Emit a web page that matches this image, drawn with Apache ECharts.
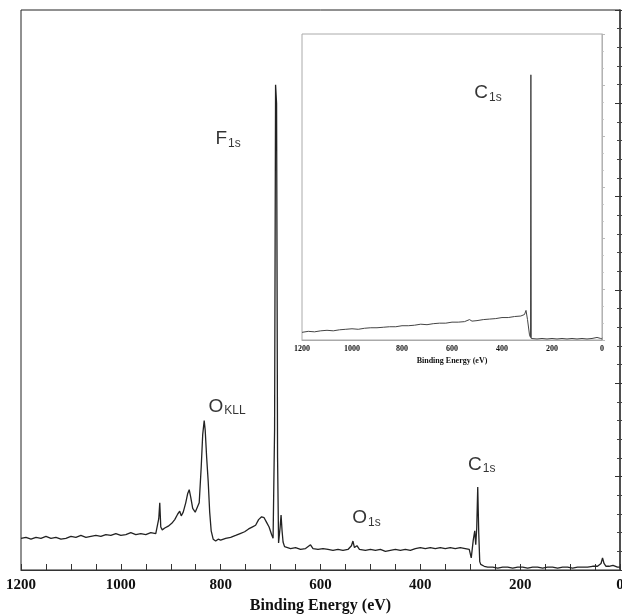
<!DOCTYPE html>
<html>
<head>
<meta charset="utf-8">
<script src="https://cdn.jsdelivr.net/npm/echarts@6/dist/echarts.min.js"></script>
<style>
  html, body { margin: 0; padding: 0; background: #fff; }
  #chart { width: 622px; height: 614px; }
</style>
</head>
<body>
<div id="chart"></div>
<script>
// 主谱 (binding energy eV / intensity, arbitrary units)
var mainEnergy = [1200,1190,1180,1170,1160,1150,1140,1130,1120,1110,1100,1090,1080,1070,1060,1050,1040,1030,1020,1010,
  1000,990,980,970,960,950,940,930,926,924,922,920,917,912,905,898,892,886,882,879,875,870,866,863,860,856,851,847,843,839,
  836,833,831,828,825,822,819,815,810,805,800,790,780,770,761,752,744,737,730,724,718,713,708,703,698,695,692,690,688,686,
  684,681,679,677,675,672,668,660,650,640,630,620,615,605,595,585,575,565,555,545,538,535,532,527,522,510,500,490,480,470,
  460,450,440,430,420,410,400,390,380,370,360,350,340,330,320,310,302,298,294,291,289,287,285,283,281,279,276,272,265,255,
  245,235,225,215,205,195,185,175,165,155,145,135,125,115,105,95,85,75,65,55,45,38,35,32,28,22,18,14,10,5,0];
var mainCounts = [0.34,0.35,0.33,0.35,0.34,0.36,0.34,0.35,0.33,0.34,0.36,0.35,0.37,0.35,0.36,0.37,0.36,0.38,0.37,0.39,
  0.37,0.38,0.40,0.38,0.39,0.38,0.40,0.39,0.41,0.55,0.72,0.46,0.43,0.45,0.47,0.50,0.54,0.60,0.63,0.58,0.62,0.72,0.82,0.86,0.78,0.66,0.62,0.60,0.72,1.10,
  1.45,1.60,1.50,1.20,0.95,0.62,0.42,0.33,0.31,0.33,0.32,0.34,0.35,0.37,0.39,0.41,0.44,0.46,0.48,0.54,0.57,0.56,0.51,0.46,0.38,0.34,1.50,5.20,5.00,1.20,
  0.29,0.45,0.59,0.42,0.30,0.25,0.24,0.23,0.24,0.22,0.23,0.27,0.23,0.22,0.23,0.22,0.21,0.22,0.21,0.22,0.26,0.31,0.24,0.26,0.22,0.21,0.22,0.21,0.22,0.20,
  0.21,0.22,0.21,0.22,0.21,0.23,0.24,0.23,0.24,0.23,0.24,0.23,0.24,0.23,0.24,0.23,0.22,0.13,0.32,0.42,0.27,0.45,0.89,0.40,0.09,0.06,0.07,0.04,0.03,0.03,
  0.02,0.03,0.03,0.02,0.03,0.03,0.02,0.03,0.03,0.02,0.03,0.03,0.02,0.03,0.03,0.02,0.03,0.03,0.03,0.04,0.04,0.07,0.13,0.07,0.04,0.04,0.05,0.05,0.03,0.03,0.03];

// 插图谱
var insetEnergy = [1200,1175,1150,1125,1100,1075,1050,1025,1000,975,950,925,900,875,850,825,800,775,750,725,700,675,650,625,600,575,550,
  530,520,500,475,450,425,400,375,350,325,310,304,298,290,286,284.5,283,280,260,240,220,200,180,160,140,120,100,80,60,40,20,12,5,0];
var insetCounts = [0.15,0.17,0.16,0.18,0.19,0.18,0.20,0.21,0.22,0.21,0.23,0.24,0.24,0.25,0.26,0.26,0.28,0.28,0.29,0.31,0.30,0.32,0.33,0.33,0.35,0.35,0.36,
  0.40,0.37,0.38,0.40,0.41,0.42,0.44,0.44,0.46,0.47,0.50,0.58,0.40,0.10,0.05,5.20,0.03,0.02,0.02,0.03,0.02,0.03,0.02,0.03,0.02,0.03,0.02,0.03,0.02,0.03,0.05,0.08,0.03,0.02];

var xTicks = [1200, 1000, 800, 600, 400, 200, 0];

// 峰标注 [能量, 强度, 元素, 下标]
var mainPeakLabels = [
  [785, 4.62, 'F', '1s'],
  [787, 1.75, 'O', 'KLL'],
  [508, 0.56, 'O', '1s'],
  [277, 1.13, 'C', '1s']
];
var insetPeakLabels = [
  [456, 4.84, 'C', '1s']
];

function zip(a, b) {
  return a.map(function (v, i) { return [v, b[i]]; });
}

var peakLabel = {
  show: true,
  position: 'inside',
  formatter: function (p) { return '{b|' + p.data[2] + '}{s|' + p.data[3] + '}'; },
  rich: {
    b: { fontFamily: 'Liberation Sans', fontSize: 19, color: '#000' },
    s: { fontFamily: 'Liberation Sans', fontSize: 12, color: '#000', padding: [9, 0, 0, 1] }
  }
};

var serifBold = { fontFamily: 'Liberation Serif', fontWeight: 'bold', color: '#111' };
var plainLabel = function (v) { return String(v); };

var option = {
  animation: false,
  backgroundColor: '#fff',
  grid: [
    { left: 21, top: 10, right: 2, bottom: 44, show: true, borderColor: '#222', borderWidth: 1, outerBoundsMode: 'none' },
    { left: 302, top: 34, width: 300, height: 306, show: true, backgroundColor: '#fff', borderColor: '#aaa', borderWidth: 1, z: 5, outerBoundsMode: 'none' }
  ],
  xAxis: [
    {
      gridIndex: 0, type: 'value', min: 0, max: 1200, interval: 200, inverse: true,
      name: 'Binding Energy (eV)', nameLocation: 'middle', nameGap: 27,
      nameTextStyle: Object.assign({ fontSize: 16 }, serifBold),
      axisLine: { lineStyle: { color: '#333', width: 1.2 } },
      axisTick: { inside: true, length: 6, lineStyle: { color: '#333' } },
      minorTick: { show: true, splitNumber: 4, length: 6, lineStyle: { color: '#333' } },
      splitLine: { show: false },
      axisLabel: Object.assign({ fontSize: 15, margin: 8,
        formatter: function (v) { return xTicks.indexOf(v) >= 0 ? String(v) : ''; } }, serifBold)
    },
    {
      gridIndex: 1, type: 'value', min: 0, max: 1200, interval: 200, inverse: true,
      name: 'Binding Energy (eV)', nameLocation: 'middle', nameGap: 17,
      nameTextStyle: Object.assign({ fontSize: 8 }, serifBold),
      axisLine: { lineStyle: { color: '#aaa' } },
      axisTick: { inside: true, length: 3, lineStyle: { color: '#999' } },
      minorTick: { show: true, splitNumber: 6, length: 2, lineStyle: { color: '#999' } },
      splitLine: { show: false },
      axisLabel: Object.assign({ fontSize: 8, margin: 5, formatter: plainLabel }, serifBold)
    }
  ],
  yAxis: [
    {
      gridIndex: 0, type: 'value', min: 0, max: 6, interval: 1,
      axisLine: { show: true, lineStyle: { color: '#666', width: 1.5 } },
      axisTick: { inside: true, length: 5, lineStyle: { color: '#333' } },
      minorTick: { show: true, splitNumber: 5, length: 3, lineStyle: { color: '#444' } },
      splitLine: { show: false }, axisLabel: { show: false }
    },
    {
      gridIndex: 0, type: 'value', min: 0, max: 6, interval: 1, position: 'right',
      axisLine: { show: true, lineStyle: { color: '#444', width: 1.5 } },
      axisTick: { inside: true, length: 5, lineStyle: { color: '#333' } },
      minorTick: { show: true, splitNumber: 5, length: 3, lineStyle: { color: '#444' } },
      splitLine: { show: false }, axisLabel: { show: false }
    },
    {
      gridIndex: 1, type: 'value', min: 0, max: 6, interval: 1,
      axisLine: { show: true, lineStyle: { color: '#bbb' } },
      axisTick: { inside: true, length: 3, lineStyle: { color: '#bbb' } },
      minorTick: { show: true, splitNumber: 3, length: 2, lineStyle: { color: '#ccc' } },
      splitLine: { show: false }, axisLabel: { show: false }
    }
  ],
  series: [
    {
      type: 'line', xAxisIndex: 0, yAxisIndex: 0,
      data: zip(mainEnergy, mainCounts),
      showSymbol: false, lineStyle: { color: '#222', width: 1.3 }
    },
    {
      type: 'line', xAxisIndex: 1, yAxisIndex: 2, z: 6,
      data: zip(insetEnergy, insetCounts),
      showSymbol: false, lineStyle: { color: '#444', width: 1 }
    },
    {
      type: 'scatter', xAxisIndex: 0, yAxisIndex: 0, symbolSize: 0,
      data: mainPeakLabels, label: peakLabel
    },
    {
      type: 'scatter', xAxisIndex: 1, yAxisIndex: 2, symbolSize: 0, z: 7,
      data: insetPeakLabels, label: peakLabel
    }
  ]
};

var myChart = echarts.init(document.getElementById('chart'));
myChart.setOption(option);
</script>
</body>
</html>
